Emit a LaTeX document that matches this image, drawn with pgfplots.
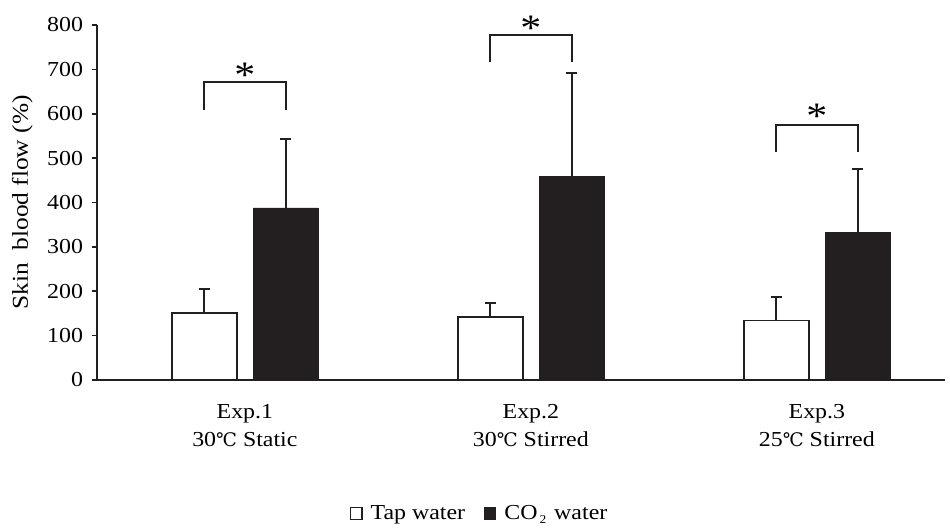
\documentclass[border=0pt]{standalone}
\usepackage{fontspec}
\setmainfont{Liberation Serif}[FakeStretch=1.12]
\newfontfamily\dejavu{DejaVu Serif}
\usepackage{pgfplots}
\pgfplotsset{compat=1.18}
\newcommand{\degc}{{\dejavu\fontsize{14}{16}\selectfont ℃}}
\definecolor{barblack}{HTML}{231F20}
\begin{document}
\begin{tikzpicture}
\useasboundingbox (0,0) rectangle (712.5pt,396pt);
\begin{axis}[
  at={(72.75pt,111pt)}, anchor=south west,
  scale only axis, width=636pt, height=266.25pt,
  xmin=-0.517, xmax=2.448, ymin=0, ymax=800,
  axis x line=bottom, axis y line=left,
  axis line style={-, line width=1.4pt, color=barblack},
  ytick={0,100,...,800},
  tick align=outside, major tick length=4pt,
  ytick style={line width=1.2pt, color=barblack},
  xtick={0,1,2},
  xtick style={draw=none},
  xticklabels={{Exp.1\\30\degc{} Static},{Exp.2\\30\degc{} Stirred},{Exp.3\\25\degc{} Stirred}},
  xticklabel style={align=center, font=\fontsize{16}{21.5}\selectfont, yshift=-10.5pt},
  yticklabel style={font=\fontsize{16}{18}\selectfont, xshift=-3pt},
  /pgf/number format/assume math mode=true,
  ylabel={Skin\ \ blood flow (\%)},
  ylabel style={font=\fontsize{17}{19}\selectfont, yshift=4pt},
  clip=false,
  ybar, bar width=0.227,
  legend columns=2,
  legend style={draw=none, at={(0.4517,-0.377)}, anchor=center,
    font=\fontsize{16}{18}\selectfont, inner sep=0pt,
    /tikz/every odd column/.append style={column sep=4pt},
    /tikz/every even column/.append style={column sep=12pt}},
  legend image code/.code={\draw[#1, line width=0.9pt] (0pt,-4pt) rectangle (8.5pt,4.5pt);},
  error bars/y dir=plus, error bars/y explicit,
  error bars/error bar style={line width=1.4pt, color=barblack},
  error bars/error mark options={line width=1.4pt, color=barblack, mark size=4.2pt, rotate=90},
]
\addplot[bar shift=-0.1425, fill=white, draw=barblack, line width=1.4pt]
  coordinates {(0,151.4) +- (0,54.0) (1,142.4) +- (0,31.5) (2,134.2) +- (0,52.5)};
\addlegendentry{Tap water}
\addplot[bar shift=0.1425, fill=barblack, draw=barblack, line width=0.5pt]
  coordinates {(0,387.6) +- (0,156.4) (1,459.5) +- (0,232.5) (2,332.9) +- (0,141.7)};
\addlegendentry{CO\raisebox{-0.35ex}{\fontsize{9}{10}\selectfont\,2\,} water}
% significance brackets
\draw[line width=1.4pt, color=barblack] (axis cs:-0.1425,608) -- (axis cs:-0.1425,671.5) -- (axis cs:0.1425,671.5) -- (axis cs:0.1425,608);
\draw[line width=1.4pt, color=barblack] (axis cs:0.8575,716.6) -- (axis cs:0.8575,777) -- (axis cs:1.1425,777) -- (axis cs:1.1425,716.6);
\draw[line width=1.4pt, color=barblack] (axis cs:1.8575,513.8) -- (axis cs:1.8575,574.6) -- (axis cs:2.1425,574.6) -- (axis cs:2.1425,513.8);
\node[font=\fontsize{28}{28}\selectfont, inner sep=0pt, anchor=base] at (axis cs:0,660) {*};
\node[font=\fontsize{28}{28}\selectfont, inner sep=0pt, anchor=base] at (axis cs:1,764) {*};
\node[font=\fontsize{28}{28}\selectfont, inner sep=0pt, anchor=base] at (axis cs:2,566) {*};
\end{axis}
\end{tikzpicture}
\end{document}
